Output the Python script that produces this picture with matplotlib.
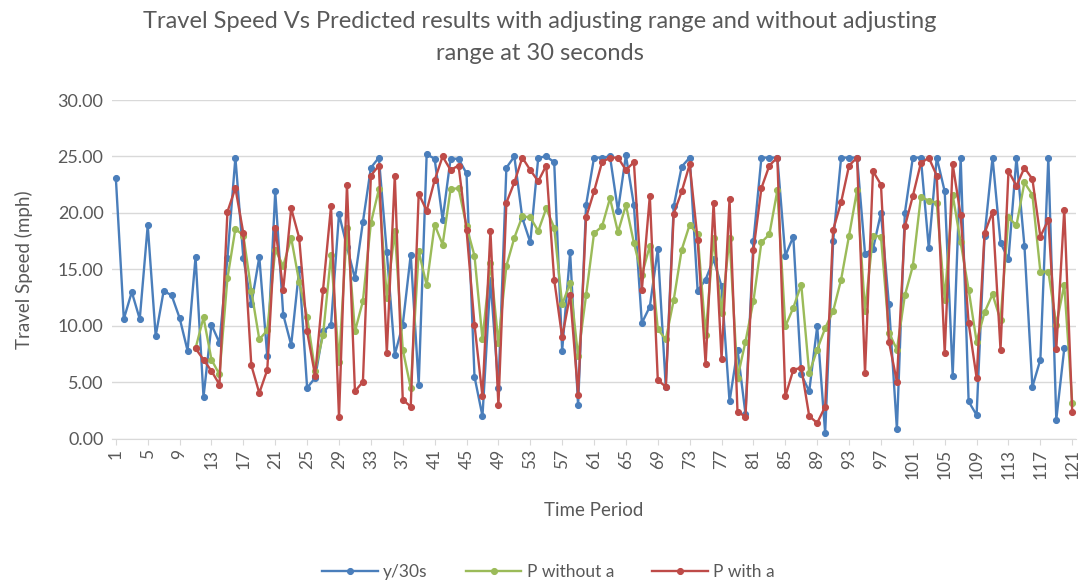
import numpy as np
import matplotlib
matplotlib.use("Agg")
import matplotlib.pyplot as plt

# Travel speed vs predicted results, 30 second periods
periods = list(range(1, 122))

y_30s = [23.1, 10.6, 13.0, 10.6, 18.9, 9.1, 13.1, 12.7, 10.7, 7.8,
         16.1, 3.7, 10.1, 8.5, 16.0, 24.9, 16.0, 11.9, 16.1, 7.3,
         21.9, 11.0, 8.3, 15.0, 4.5, 5.4, 9.5, 10.1, 19.9, 17.0,
         14.2, 19.2, 24.0, 24.9, 16.5, 7.45, 10.1, 16.3, 4.8, 25.2,
         24.8, 19.4, 24.8, 24.8, 23.5, 5.5, 2.0, 14.1, 4.5, 24.0,
         25.0, 19.55, 17.4, 24.9, 25.0, 24.5, 7.8, 16.5, 2.95, 20.7,
         24.9, 24.9, 25.0, 20.2, 25.1, 20.7, 10.25, 11.7, 16.8, 4.6,
         20.6, 24.1, 24.9, 13.1, 14.1, 15.9, 13.5, 3.3, 7.9, 2.2,
         17.5, 24.9, 24.9, 24.9, 16.2, 17.9, 5.7, 4.2, 9.95, 0.5,
         17.5, 24.9, 24.9, 24.9, 16.4, 16.8, 20.0, 11.9, 0.85, 20.0,
         24.9, 24.9, 16.9, 24.9, 21.9, 5.6, 24.9, 3.3, 2.1, 18.0,
         24.9, 17.35, 15.9, 24.9, 17.1, 4.6, 7.0, 24.9, 1.7, 8.0,
         None]

p_without_a = [None] * 10 + [
    8.0, 10.75, 7.0, 5.7, 14.2, 18.6, 18.0, 13.1, 8.8, 9.6,
    16.75, 15.3, 17.8, 13.9, 10.8, 6.0, 9.2, 16.3, 6.8, 18.7,
    9.5, 12.2, 19.1, 22.1, 12.5, 18.4, 7.9, 4.5, 16.6, 13.6,
    18.96, 17.2, 22.1, 22.2, 18.8, 16.2, 8.8, 15.6, 8.5, 15.3,
    17.8, 19.7, 19.6, 18.4, 20.4, 18.7, 11.9, 13.8, 7.3, 12.7,
    18.2, 18.8, 21.3, 18.3, 20.7, 17.35, 14.5, 17.1, 9.7, 8.8,
    12.3, 16.75, 18.96, 18.1, 9.2, 17.8, 11.1, 17.8, 5.4, 8.6,
    12.2, 17.4, 18.1, 22.0, 9.95, 11.6, 13.65, 5.8, 7.9, 9.8,
    11.3, 14.1, 18.0, 22.0, 11.3, 18.0, 17.9, 9.4, 7.9, 12.7,
    15.3, 21.4, 21.1, 20.9, 12.3, 21.6, 17.4, 13.2, 8.6, 11.2,
    12.8, 10.5, 19.6, 18.9, 22.7, 21.6, 14.8, 14.8, 10.1, 13.65,
    3.15]

p_with_a = [None] * 10 + [
    8.0, 7.0, 6.0, 4.8, 20.1, 22.2, 18.2, 6.5, 4.05, 6.1,
    18.7, 13.2, 20.4, 17.8, 9.5, 5.6, 13.2, 20.6, 1.9, 22.5,
    4.2, 5.05, 23.3, 24.2, 7.6, 23.3, 3.46, 2.85, 21.7, 20.2,
    22.9, 25.0, 23.8, 24.2, 18.5, 10.1, 3.75, 18.4, 2.95, 20.9,
    22.7, 24.9, 23.8, 22.8, 24.2, 14.1, 9.0, 12.75, 3.9, 19.6,
    21.9, 24.5, 24.9, 24.9, 23.8, 24.5, 13.2, 21.5, 5.2, 4.6,
    19.95, 21.9, 24.3, 17.6, 6.6, 20.9, 7.06, 21.2, 2.4, 1.95,
    16.7, 22.2, 24.2, 24.9, 3.75, 6.1, 6.3, 2.0, 1.4, 2.85,
    18.5, 20.95, 24.2, 24.9, 5.8, 23.7, 22.5, 8.6, 5.05, 18.8,
    21.5, 24.4, 24.9, 23.3, 7.6, 24.3, 19.8, 10.25, 5.4, 18.2,
    20.1, 7.9, 23.7, 22.4, 24.0, 23.0, 17.9, 19.4, 7.95, 20.3,
    2.4]

series_names = ["y/30s", "P without a", "P with a"]
colors = ["#4a7ebb", "#9bbb59", "#be4b48"]

title = ("Travel Speed Vs Predicted results with adjusting range and without adjusting\n"
         "range at 30 seconds")

plt.rcParams['font.family'] = ['Lato', 'DejaVu Sans']
txt = "#595959"

fig = plt.figure(figsize=(10.86, 5.85), dpi=100)
ax = fig.add_axes([0.103, 0.250, 0.888, 0.579])

def arr(v):
    return np.array([np.nan if a is None else a for a in v], dtype=float)

for name, vals, c in zip(series_names, [y_30s, p_without_a, p_with_a], colors):
    ax.plot(periods, arr(vals), color=c, lw=1.7, marker='o', ms=4.3,
            markeredgewidth=0.8, label=name)

ax.set_ylim(0, 30)
ax.set_xlim(0.5, 121.5)
ax.set_yticks(np.arange(0, 31, 5))
ax.set_yticklabels(["%.2f" % v for v in np.arange(0, 31, 5)])
ax.set_xticks(periods[::4])
ax.set_xticklabels([str(p) for p in periods[::4]], rotation=90)
ax.yaxis.grid(True, color="#d9d9d9", lw=1)
ax.set_axisbelow(True)
for s in ["top", "right", "left"]:
    ax.spines[s].set_visible(False)
ax.spines["bottom"].set_color("#d9d9d9")
ax.tick_params(axis='y', length=0, labelsize=13, colors=txt, pad=6)
ax.tick_params(axis='x', length=4, color="#d9d9d9", labelsize=12.5, colors=txt)

ax.set_ylabel("Travel Speed (mph)", fontsize=13.5, color=txt, labelpad=18)
ax.set_xlabel("Time Period", fontsize=13.5, color=txt, labelpad=16)
fig.suptitle(title, fontsize=17, color=txt, x=0.497, y=0.982, linespacing=1.65)

fig.legend(loc='center', bbox_to_anchor=(0.505, 0.022), ncol=3,
           frameon=False, fontsize=12.5, labelcolor=txt, handlelength=3.2,
           columnspacing=2.2, handletextpad=0.3)

fig.savefig("out.png", dpi=100)
